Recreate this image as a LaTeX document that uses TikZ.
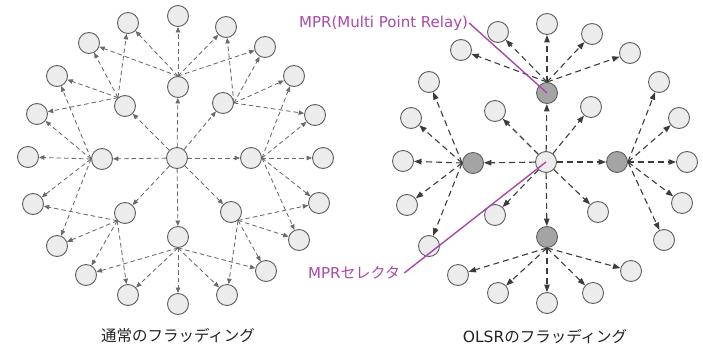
\documentclass[tikz,border=0pt]{standalone}
\usepackage{fontspec}
\setmainfont{DejaVu Sans}
\newfontfamily\jp{Noto Sans CJK JP}
\usetikzlibrary{arrows.meta}
\definecolor{nodefill}{HTML}{ECECEC}
\definecolor{nodeline}{HTML}{5E5E5E}
\definecolor{mprfill}{HTML}{A4A4A4}
\definecolor{flowlight}{HTML}{6A6A6A}
\definecolor{flowdark}{HTML}{3C3C3C}
\definecolor{callout}{HTML}{A848A8}
\definecolor{captext}{HTML}{222222}
\tikzset{
  host/.style={circle,draw=nodeline,fill=nodefill,line width=0.9pt,minimum size=21pt,inner sep=0pt},
  relay/.style={host,fill=mprfill},
  floodarrow/.style={draw=flowlight,line width=0.85pt,dash pattern=on 4.5pt off 3pt,
    -{Triangle[length=5.5pt,width=4.5pt]}},
  relayarrow/.style={draw=flowdark,line width=1.1pt,dash pattern=on 6pt off 4pt,
    -{Triangle[length=7.5pt,width=5.5pt]}},
  calloutline/.style={draw=callout,line width=1.4pt},
  calloutlabel/.style={text=callout,inner sep=0pt,font=\fontsize{15}{18}\selectfont},
  caption/.style={text=captext,inner sep=0pt,font=\fontsize{15.5}{18}\selectfont}
}
\begin{document}
\begin{tikzpicture}[x=1pt,y=-1pt]
\useasboundingbox (0,0) rectangle (703,345);

% ---------- ordinary flooding ----------
\node[host] (ac) at (177,158) {};
\node[host] (at) at (178,87) {};
\node[host] (ar) at (251,158) {};
\node[host] (ab) at (178,237) {};
\node[host] (al) at (102,159) {};
\node[host] (d1) at (125,106) {};
\node[host] (d2) at (223,103) {};
\node[host] (d3) at (125,213) {};
\node[host] (d4) at (231,212) {};
\foreach \n/\x/\y in {1/178/16, 2/128/23, 3/226/27, 4/89/43, 5/265/47,
    6/57/76, 7/294/76, 8/37/114, 9/315/115, 10/28/157, 11/323/158,
    12/33/204, 13/319/203, 14/57/246, 15/299/240, 16/86/275,
    17/266/271, 18/128/295, 19/227/295, 20/178/304}
  \node[host] (o\n) at (\x,\y) {};

\foreach \t in {at,ar,ab,al,d1,d2,d3,d4}
  \draw[floodarrow] (ac) -- (\t);
\foreach \t in {1,2,3,4,5}      \draw[floodarrow] (at.north) -- (o\t);
\foreach \t in {2,4,6,8}        \draw[floodarrow] (d1.130) -- (o\t);
\foreach \t in {3,5,7,9}        \draw[floodarrow] (d2.east) -- (o\t);
\foreach \t in {10,8,6,12,14}   \draw[floodarrow] (al.west) -- (o\t);
\foreach \t in {11,9,7,13,15}   \draw[floodarrow] (ar.east) -- (o\t);
\foreach \t in {12,14,16,18}    \draw[floodarrow] (d3.225) -- (o\t);
\foreach \t in {13,15,17,19}    \draw[floodarrow] (d4.-50) -- (o\t);
\foreach \t in {16,18,20,19,17} \draw[floodarrow] (ab.south) -- (o\t);

\node[caption] (capA) at (178,336) {\jp 通常のフラッディング};

% ---------- OLSR flooding ----------
\node[host]  (bc) at (546,162) {};
\node[relay] (bt) at (547,93) {};
\node[relay] (bl) at (473,163) {};
\node[relay] (br) at (617,162) {};
\node[relay] (bb) at (547,237) {};
\node[host] (e1) at (495,111) {};
\node[host] (e2) at (591,107) {};
\node[host] (e3) at (495,215) {};
\node[host] (e4) at (598,212) {};
\foreach \n/\x/\y in {1/498/32, 2/547/24, 3/592/34, 4/461/50, 5/630/53,
    6/429/82, 7/659/82, 8/411/118, 9/679/118, 10/403/161, 11/687/162,
    12/407/205, 13/682/203, 14/429/246, 15/664/240, 16/458/275,
    17/631/271, 18/498/293, 19/593/293, 20/547/303}
  \node[host] (p\n) at (\x,\y) {};

\foreach \t in {bt,bl,br,bb,e1,e2,e3,e4}
  \draw[relayarrow] (bc) -- (\t);
\foreach \t in {1,2,3,4,5}      \draw[relayarrow] (bt.north) -- (p\t);
\foreach \t in {10,8,6,12,14}   \draw[relayarrow] (bl.west) -- (p\t);
\foreach \t in {11,9,7,13,15}   \draw[relayarrow] (br.east) -- (p\t);
\foreach \t in {16,18,20,19,17} \draw[relayarrow] (bb.south) -- (p\t);

\node[caption] (capB) at (545,336) {OLSR\jp のフラッディング};

% ---------- callouts ----------
\node[calloutlabel,anchor=west] (mprlbl) at (299,23) {MPR(Multi Point Relay)};
\draw[calloutline] ([xshift=1pt]mprlbl.east) -- (bt.center);
\node[calloutlabel,anchor=west] (sellbl) at (308,273) {MPR{\jp セレクタ}};
\draw[calloutline] ([xshift=4pt]sellbl.east) -- (bc.center);
\end{tikzpicture}
\end{document}
